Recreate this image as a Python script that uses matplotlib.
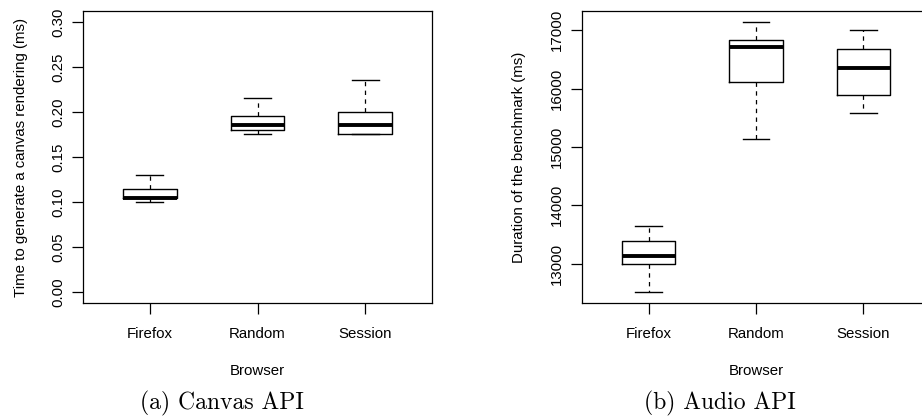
import matplotlib
matplotlib.use("Agg")
import matplotlib.pyplot as plt

categories = ["Firefox", "Random", "Session"]

# Canvas API (ms): lower whisker, Q1, median, Q3, upper whisker
canvas_whislo = [0.100, 0.175, 0.175]
canvas_q1 = [0.104, 0.180, 0.175]
canvas_med = [0.105, 0.185, 0.185]
canvas_q3 = [0.115, 0.195, 0.200]
canvas_whishi = [0.130, 0.215, 0.235]
canvas_yticks = [0.00, 0.05, 0.10, 0.15, 0.20, 0.25, 0.30]
canvas_yticklabels = ["0.00", "0.05", "0.10", "0.15", "0.20", "0.25", "0.30"]

# Audio API (ms)
audio_whislo = [12510, 15130, 15575]
audio_q1 = [13000, 16106, 15884]
audio_med = [13137, 16716, 16351]
audio_q3 = [13394, 16836, 16678]
audio_whishi = [13646, 17144, 17003]
audio_yticks = [13000, 14000, 15000, 16000, 17000]
audio_yticklabels = ["13000", "14000", "15000", "16000", "17000"]

W, H = 922, 417
fig = plt.figure(figsize=(W / 100, H / 100), dpi=100)

sans = "Liberation Sans"
serif = "cmr10"
fs = 10.8


def make_stats(lo, q1, med, q3, hi):
    return [dict(whislo=a, q1=b, med=c, q3=d, whishi=e, fliers=[])
            for a, b, c, d, e in zip(lo, q1, med, q3, hi)]


def draw(ax, stats, yticks, yticklabels, ylabel, ylim, right_spine=True):
    ax.bxp(stats, positions=[1, 2, 3], widths=0.5, showfliers=False,
           boxprops=dict(color="black", linewidth=1.0),
           medianprops=dict(color="black", linewidth=2.8, solid_capstyle="butt"),
           whiskerprops=dict(color="black", linewidth=0.9, linestyle=(0, (3.5, 3.5))),
           capprops=dict(color="black", linewidth=1.0),
           capwidths=0.25)
    ax.set_xlim(0.38, 3.62)
    ax.set_ylim(*ylim)
    ax.set_xticks([1, 2, 3])
    ax.set_xticklabels(categories, fontfamily=sans, fontsize=fs)
    ax.set_yticks(yticks)
    ax.set_yticklabels(yticklabels, fontfamily=sans, fontsize=fs, rotation=90,
                       va="center")
    ax.tick_params(axis="both", direction="out", length=8, width=0.9, color="black")
    ax.tick_params(axis="x", pad=9)
    ax.tick_params(axis="y", pad=5)
    ax.set_xlabel("Browser", fontfamily=sans, fontsize=fs, labelpad=17)
    ax.set_ylabel(ylabel, fontfamily=sans, fontsize=fs)
    for s in ax.spines.values():
        s.set_linewidth(0.9)
        s.set_color("black")
    ax.spines["right"].set_visible(right_spine)


ax1 = fig.add_axes([83 / W, (H - 303) / H, (432 - 83) / W, (303 - 11) / H])
draw(ax1, make_stats(canvas_whislo, canvas_q1, canvas_med, canvas_q3, canvas_whishi),
     canvas_yticks, canvas_yticklabels,
     "Time to generate a canvas rendering (ms)", (-0.012, 0.312))

ax2 = fig.add_axes([582 / W, (H - 303) / H, (930 - 582) / W, (303 - 11) / H])
draw(ax2, make_stats(audio_whislo, audio_q1, audio_med, audio_q3, audio_whishi),
     audio_yticks, audio_yticklabels,
     "Duration of the benchmark (ms)", (12325, 17329))
ax1.yaxis.set_label_coords(-55 / (432 - 83), 0.5)
ax2.yaxis.set_label_coords(-56 / (930 - 582), 0.5)

fig.text(222 / W, 1 - 403 / H, "(a) Canvas API", fontfamily=serif, fontsize=17,
         ha="center", va="center")
fig.text(720 / W, 1 - 403 / H, "(b) Audio API", fontfamily=serif, fontsize=17,
         ha="center", va="center")

fig.savefig("out.png", dpi=100)
